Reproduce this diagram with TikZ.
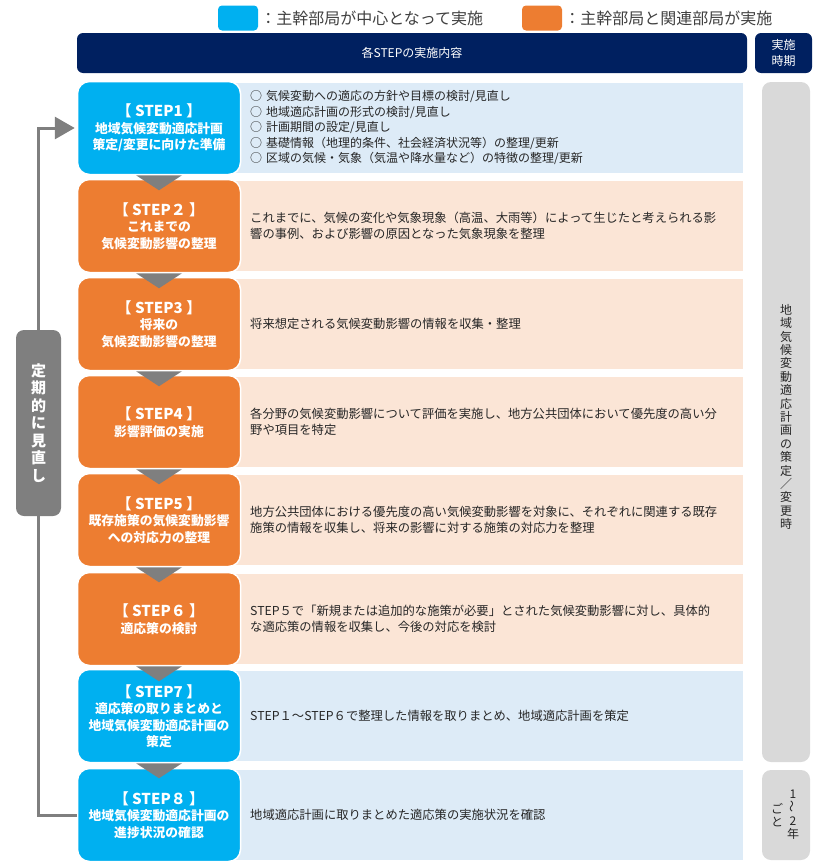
\documentclass[tikz,border=0pt]{standalone}
\usepackage{fontspec}
\setmainfont{Noto Sans CJK JP}
\usepackage{graphicx}
\usetikzlibrary{arrows.meta}
\definecolor{stepcyan}{HTML}{00B0F0}
\definecolor{steporange}{HTML}{ED7D31}
\definecolor{descblue}{HTML}{DDEBF7}
\definecolor{descorange}{HTML}{FBE5D6}
\definecolor{headnavy}{HTML}{002060}
\definecolor{arrowgray}{HTML}{7F7F7F}
\definecolor{periodgray}{HTML}{D9D9D9}
\begin{document}
\begin{tikzpicture}[x=1pt,y=-1pt,
    stepbox/.style={draw=white, line width=1.5pt, rounded corners=12pt, minimum width=163pt, minimum height=93pt,
      text=white, align=center, font=\bfseries\fontsize{12.8}{16.5}\selectfont},
    desc/.style={anchor=west, minimum height=90pt, text width=479pt, inner xsep=14pt, align=left,
      text=black!85, font=\fontsize{12.3}{15.5}\selectfont},
    legbox/.style={minimum width=40pt, minimum height=25pt, rounded corners=4pt},
    legtext/.style={anchor=west, inner xsep=2pt, text=black!75, font=\fontsize{16}{18}\selectfont},
    headbox/.style={fill=headnavy, rounded corners=6pt, minimum width=670pt, minimum height=40pt,
      text=white, align=center, font=\fontsize{12}{16}\selectfont},
    periodbox/.style={fill=periodgray, rounded corners=9pt, minimum width=48pt},
    vtext/.style={align=center, text=black!85, font=\fontsize{12}{13.4}\selectfont},
    loopline/.style={arrowgray, line width=3pt, -{Triangle[length=20pt,width=22pt]}}]
  \useasboundingbox (0,0) rectangle (815,862);

  % legend
  \node[legbox, fill=stepcyan] (legc) at (238,18) {};
  \node[legtext] (legct) at (legc.east) {：主幹部局が中心となって実施};
  \node[legbox, fill=steporange] (lego) at (542,18) {};
  \node[legtext] (legot) at (lego.east) {：主幹部局と関連部局が実施};

  % header
  \node[headbox] (hcont) at (412,53) {各STEPの実施内容};
  \node[headbox, minimum width=57pt] (htime) at (783.5,53) {実施\\時期};

  % contents of each step
  \node[desc, fill=descblue, font=\fontsize{12}{15.5}\selectfont] (d1) at (236,128)
    {○ 気候変動への適応の方針や目標の検討/見直し\\○ 地域適応計画の形式の検討/見直し\\○ 計画期間の設定/見直し\\○ 基礎情報（地理的条件、社会経済状況等）の整理/更新\\○ 区域の気候・気象（気温や降水量など）の特徴の整理/更新};
  \node[desc, fill=descorange] (d2) at (236,226)
    {これまでに、気候の変化や気象現象（高温、大雨等）によって生じたと考えられる影\\響の事例、および影響の原因となった気象現象を整理};
  \node[desc, fill=descorange] (d3) at (236,324) {将来想定される気候変動影響の情報を収集・整理};
  \node[desc, fill=descorange] (d4) at (236,422)
    {各分野の気候変動影響について評価を実施し、地方公共団体において優先度の高い分\\野や項目を特定};
  \node[desc, fill=descorange] (d5) at (236,520)
    {地方公共団体における優先度の高い気候変動影響を対象に、それぞれに関連する既存\\施策の情報を収集し、将来の影響に対する施策の対応力を整理};
  \node[desc, fill=descorange] (d6) at (236,619)
    {STEP５で「新規または追加的な施策が必要」とされた気候変動影響に対し、具体的\\な適応策の情報を収集し、今後の対応を検討};
  \node[desc, fill=descblue] (d7) at (236,716) {STEP１～STEP６で整理した情報を取りまとめ、地域適応計画を策定};
  \node[desc, fill=descblue] (d8) at (236,815) {地域適応計画に取りまとめた適応策の実施状況を確認};

  % steps
  \node[stepbox, fill=stepcyan] (s1) at (159,128)
    {{\fontsize{15}{18}\selectfont 【 STEP1 】}\\地域気候変動適応計画\\策定/変更に向けた準備};
  \node[stepbox, fill=steporange] (s2) at (159,226)
    {{\fontsize{15}{18}\selectfont 【 STEP２ 】}\\これまでの\\気候変動影響の整理};
  \node[stepbox, fill=steporange] (s3) at (159,324)
    {{\fontsize{15}{18}\selectfont 【 STEP3 】}\\将来の\\気候変動影響の整理};
  \node[stepbox, fill=steporange] (s4) at (159,422)
    {{\fontsize{15}{18}\selectfont 【 STEP4 】}\\影響評価の実施};
  \node[stepbox, fill=steporange] (s5) at (159,520)
    {{\fontsize{15}{18}\selectfont 【 STEP5 】}\\既存施策の気候変動影響\\への対応力の整理};
  \node[stepbox, fill=steporange] (s6) at (159,619)
    {{\fontsize{15}{18}\selectfont 【 STEP６ 】}\\適応策の検討};
  \node[stepbox, fill=stepcyan] (s7) at (159,716)
    {{\fontsize{15}{18}\selectfont 【 STEP7 】}\\適応策の取りまとめと\\地域気候変動適応計画の\\策定};
  \node[stepbox, fill=stepcyan] (s8) at (159,815)
    {{\fontsize{15}{18}\selectfont 【 STEP８ 】}\\地域気候変動適応計画の\\進捗状況の確認};

  % arrows between steps
  \foreach \i in {1,...,7}
    \fill[arrowgray] ([xshift=-23pt]s\i.south) -- ([xshift=23pt]s\i.south) -- ([yshift=-15pt]s\i.south) -- cycle;

  % periodic review loop
  \draw[loopline, shorten >=2pt] (s8.west) -- ++(-38,0) |- (s1.west);
  \node[fill=arrowgray, rounded corners=8pt, minimum width=45pt, minimum height=186pt, align=center,
    text=white, font=\bfseries\fontsize{15}{17.5}\selectfont] (rev) at (38.5,423) {定\\期\\的\\に\\見\\直\\し};

  % timing column
  \node[periodbox, minimum height=680pt] (p1) at (786,422) {};
  \node[vtext] (p1t) at (786,417) {地\\域\\気\\候\\変\\動\\適\\応\\計\\画\\の\\策\\定\\／\\変\\更\\時};
  \node[periodbox, minimum height=90pt] (p2) at (786,815) {};
  \node[vtext] (p2r) at ([xshift=7pt]p2.center) {1\\\rotatebox{90}{～}\\2\\年};
  \node[vtext] (p2l) at ([xshift=-9pt]p2.center) {ご\\と};
\end{tikzpicture}
\end{document}
